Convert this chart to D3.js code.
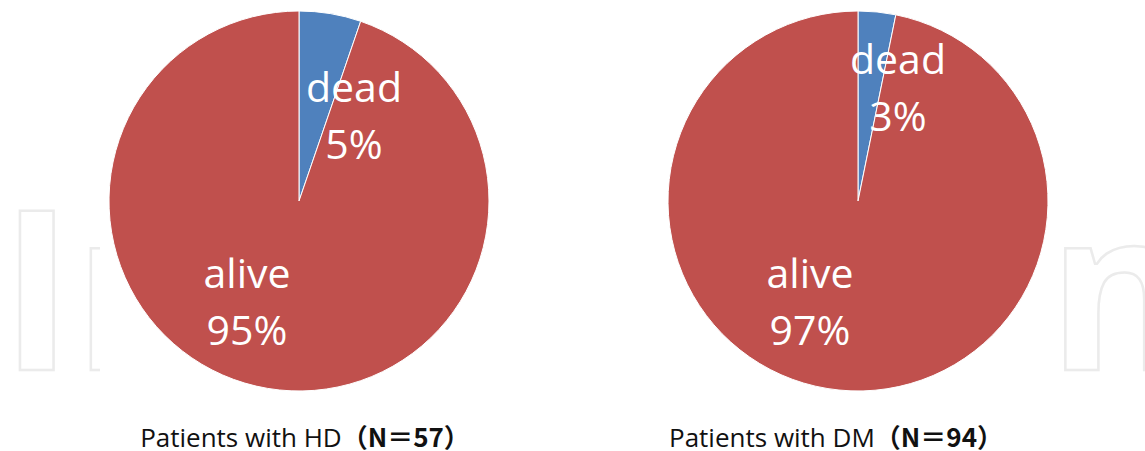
<!DOCTYPE html>
<html>
<head>
<meta charset="utf-8">
<script src="https://cdn.jsdelivr.net/npm/d3@7"></script>
<style>
  body { margin: 0; background: #fff; }
  svg { display: block; }
</style>
</head>
<body>
<script>
const w = 1145;
const h = 451;

// data
const groups = ["HD", "DM"];
const totals = [57, 94];
const categories = ["dead", "alive"];
const deadCounts = [3, 3];
const pctLabels = [["5%", "95%"], ["3%", "97%"]];

const colors = d3.scaleOrdinal().domain(categories).range(["#4f81bd", "#c0504d"]);

const svg = d3.select("body").append("svg").attr("width", w).attr("height", h);

// faint watermark, only its edges show outside the chart boxes
svg.append("clipPath").attr("id", "wmclip")
  .append("rect").attr("x", 0).attr("y", 0).attr("width", 100).attr("height", h);

const wm = (txt, x, clip) => {
  const t = svg.append("text")
    .text(txt)
    .attr("x", x)
    .attr("y", 370)
    .attr("font-family", "Open Sans, sans-serif")
    .attr("font-weight", 700)
    .attr("font-size", 222)
    .attr("fill", "none")
    .attr("stroke", "#ebebeb")
    .attr("stroke-width", 2.5);
  if (clip) t.attr("clip-path", "url(#wmclip)");
};
wm("In", 0, true);
wm("n", 1048, false);

const radius = 190;
const centers = [[299, 201], [858, 201]];
// label anchor points (x offset, first-line baseline offset) from pie centre
const labelSpots = [
  { dead: [55, -99], alive: [-52, 87] },
  { dead: [40, -127], alive: [-48, 87] }
];
const lineGap = 57;

const pie = d3.pie().sort(null).value(d => d.value);
const arc = d3.arc().innerRadius(0).outerRadius(radius);

groups.forEach((g, gi) => {
  const vals = [
    { key: "dead", value: deadCounts[gi] },
    { key: "alive", value: totals[gi] - deadCounts[gi] }
  ];
  const [cx, cy] = centers[gi];
  const gg = svg.append("g").attr("transform", `translate(${cx},${cy})`);

  gg.selectAll("path").data(pie(vals)).enter().append("path")
    .attr("d", arc)
    .attr("fill", d => colors(d.data.key))
    .attr("stroke", "#fff")
    .attr("stroke-width", 1);

  vals.forEach((v, vi) => {
    const [dx, dy] = labelSpots[gi][v.key];
    const t = gg.append("text")
      .attr("text-anchor", "middle")
      .attr("font-family", "Open Sans, sans-serif")
      .attr("font-size", 41)
      .attr("fill", "#fff");
    t.append("tspan").attr("x", dx).attr("y", dy).text(v.key);
    t.append("tspan").attr("x", dx).attr("y", dy + lineGap).text(pctLabels[gi][vi]);
  });

  const cap = svg.append("text")
    .attr("x", [305, 836][gi])
    .attr("y", 447)
    .attr("text-anchor", "middle")
    .attr("font-family", "Open Sans, sans-serif")
    .attr("font-size", 26)
    .attr("fill", "#111");
  cap.append("tspan").text(`Patients with ${g}`);
  cap.append("tspan")
    .attr("font-family", "Noto Sans CJK JP, sans-serif")
    .attr("font-weight", "bold")
    .text(`（N＝${totals[gi]}）`);
});
</script>
</body>
</html>
